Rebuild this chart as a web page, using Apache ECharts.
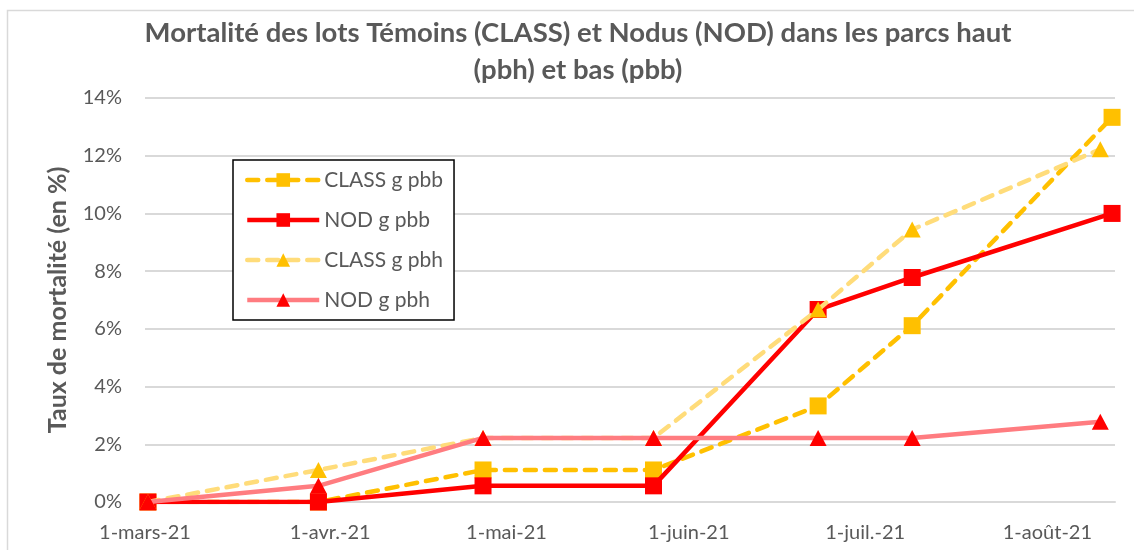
<!DOCTYPE html>
<html>
<head>
<meta charset="utf-8">
<script src="https://cdn.jsdelivr.net/npm/echarts@6/dist/echarts.min.js"></script>
<style type="text/css">
html, body{margin: 0; padding: 0; background: #fff}
#chart{width: 1134px; height: 550px}
</style>
</head>
<body>
<div id="chart"></div>
<script type="text/javascript">
// dates des relevés (le dernier relevé pbb et pbh n'est pas le même jour)
var datesPbb = ['2021-03-01', '2021-03-30', '2021-04-27', '2021-05-26', '2021-06-23', '2021-07-09', '2021-08-12'];
var datesPbh = ['2021-03-01', '2021-03-30', '2021-04-27', '2021-05-26', '2021-06-23', '2021-07-09', '2021-08-10'];

// mortalité en %
var classPbb = [0, 0, 1.11, 1.11, 3.33, 6.11, 13.33];
var nodPbb   = [0, 0, 0.56, 0.56, 6.67, 7.78, 10.00];
var classPbh = [0, 1.11, 2.22, 2.22, 6.67, 9.44, 12.22];
var nodPbh   = [0, 0.56, 2.22, 2.22, 2.22, 2.22, 2.78];

var seriesNames = ['CLASS g pbb', 'NOD g pbb', 'CLASS g pbh', 'NOD g pbh'];
var moisFr = ['janv.', 'févr.', 'mars', 'avr.', 'mai', 'juin', 'juil.', 'août', 'sept.', 'oct.', 'nov.', 'déc.'];

function day(s) {
    var p = s.split('-');
    return new Date(+p[0], +p[1] - 1, +p[2]).getTime();
}
function pairs(dates, vals) {
    return dates.map(function (d, i) { return [day(d), vals[i]]; });
}

var FONT = 'Lato';
var GREY = '#595959';
var HALF = 12 * 3600 * 1000;

var chart = echarts.init(document.getElementById('chart'));

option = {
    animation: false,
    backgroundColor: '#fff',
    textStyle: {fontFamily: FONT},
    title: {
        text: 'Mortalité des lots Témoins (CLASS) et Nodus (NOD) dans les parcs haut\n(pbh) et bas (pbb)',
        left: 573,
        top: 10,
        textAlign: 'center',
        textStyle: {fontFamily: FONT, fontSize: 27.5, fontWeight: 'bold', color: GREY, lineHeight: 37}
    },
    graphic: [{
        type: 'rect',
        shape: {x: 7.5, y: 10.5, width: 1140, height: 600},
        style: {fill: null, stroke: '#D9D9D9', lineWidth: 1.5},
        silent: true
    }],
    grid: {left: 145, right: 19, top: 98, bottom: 48},
    legend: {
        orient: 'vertical',
        left: 233,
        top: 160,
        padding: [8, 11, 8, 12],
        itemGap: 16,
        itemWidth: 72,
        itemHeight: 17,
        itemTextGap: 7,
        borderColor: '#000',
        borderWidth: 1.5,
        backgroundColor: '#fff',
        data: seriesNames,
        lineStyle: {width: 4.5},
        textStyle: {fontFamily: FONT, fontSize: 21, color: GREY, lineHeight: 24}
    },
    xAxis: {
        type: 'time',
        min: day('2021-03-01') - HALF,
        max: day('2021-08-12') + HALF,
        splitNumber: 6,
        axisLine: {show: true, lineStyle: {color: '#D9D9D9', width: 2}},
        axisTick: {show: false},
        splitLine: {show: false},
        axisLabel: {
            fontFamily: FONT, fontSize: 20, color: GREY, margin: 21,
            showMinLabel: true,
            formatter: function (v) {
                // le min est décalé d'une demi-journée : on arrondit au jour
                var d = new Date(v + HALF);
                return d.getDate() + '-' + moisFr[d.getMonth()] + '-' + String(d.getFullYear()).slice(2);
            }
        }
    },
    yAxis: {
        type: 'value',
        min: 0,
        max: 14,
        interval: 2,
        name: 'Taux de mortalité (en %)',
        nameLocation: 'middle',
        nameGap: 75,
        nameTextStyle: {fontFamily: FONT, fontSize: 25, fontWeight: 'bold', color: GREY},
        axisLine: {show: false},
        axisTick: {show: false},
        splitLine: {lineStyle: {color: '#D9D9D9', width: 2}},
        axisLabel: {fontFamily: FONT, fontSize: 20, color: GREY, margin: 23, formatter: '{value}%'}
    },
    series: [
        {
            name: seriesNames[0],
            type: 'line',
            z: 2,
            data: pairs(datesPbb, classPbb),
            symbol: 'rect',
            symbolSize: 17,
            color: '#FFC000',
            itemStyle: {color: '#FFC000'},
            lineStyle: {color: '#FFC000', width: 4.5, type: [11, 9], cap: 'round'}
        },
        {
            name: seriesNames[1],
            type: 'line',
            z: 3,
            data: pairs(datesPbb, nodPbb),
            symbol: 'rect',
            symbolSize: 17,
            color: '#FF0000',
            itemStyle: {color: '#FF0000'},
            lineStyle: {color: '#FF0000', width: 4.5}
        },
        {
            name: seriesNames[2],
            type: 'line',
            z: 4,
            data: pairs(datesPbh, classPbh),
            symbol: 'triangle',
            symbolSize: [17, 16],
            color: '#FFC000',
            itemStyle: {color: '#FFC000'},
            lineStyle: {color: '#FFDC7A', width: 4.5, type: [11, 9], cap: 'round'}
        },
        {
            name: seriesNames[3],
            type: 'line',
            z: 5,
            data: pairs(datesPbh, nodPbh),
            symbol: 'triangle',
            symbolSize: [17, 16],
            color: '#FF0000',
            itemStyle: {color: '#FF0000'},
            lineStyle: {color: '#FF7C80', width: 4.5}
        }
    ]
};
chart.setOption(option, true);
</script>
</body>
</html>
